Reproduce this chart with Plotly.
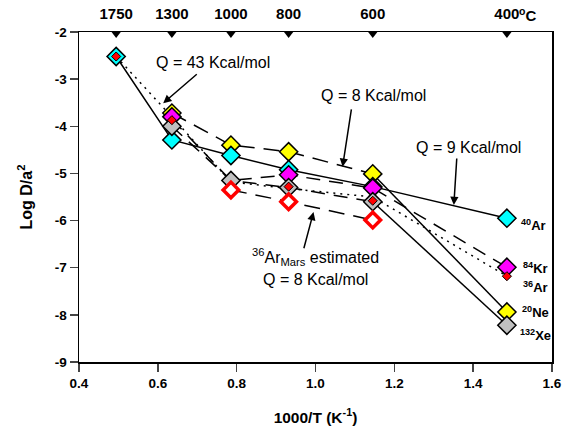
import plotly.graph_objects as go

# ---------------- data ----------------
temps_C = [1750, 1300, 1000, 800, 600, 400]
top_tick_text = ["1750", "1300", "1000", "800", "600", "400"]
inv_T = [1000.0 / (t + 273.15) for t in temps_C]

x_ticks = [0.4, 0.6, 0.8, 1.0, 1.2, 1.4, 1.6]
x_tick_text = ["0.4", "0.6", "0.8", "1.0", "1.2", "1.4", "1.6"]
y_ticks = [-2, -3, -4, -5, -6, -7, -8, -9]
y_tick_text = ["-2", "-3", "-4", "-5", "-6", "-7", "-8", "-9"]

ar40 = [-2.52, -4.29, -4.62, -4.92, -5.28, -5.95]
ar36 = [-2.52, -3.87, None, -5.28, -5.58, -7.18]
kr84 = [None, -3.80, None, -5.03, -5.31, -6.99]
ne20 = [None, -3.72, -4.40, -4.54, -5.01, -7.94]
xe132 = [None, -4.00, -5.15, -5.30, -5.60, -8.22]
ar36_mars = [None, None, -5.35, -5.60, -5.99, None]

# trend lines (fits drawn in the original)
ar40_line = [-2.52, -4.29, -4.62, -4.92, -5.28, -5.95]
ar36_line = [-2.52, -3.80, -5.18, -5.32, -5.50, -7.18]
kr84_line = [None, -3.85, -5.15, -5.03, -5.31, -6.99]
ne20_dash = [None, -3.72, -4.40, -4.54, -5.01, None]
ne20_solid = [None, None, None, None, -5.01, -7.94]
xe132_dash = [None, -4.00, -5.15, -5.30, -5.60, None]
xe132_solid = [None, None, None, None, -5.60, -8.22]
mars_line = [None, None, -5.35, -5.60, -5.99, None]

FONT = "Liberation Sans, Arial, sans-serif"

fig = go.Figure()

def line_trace(y, dash):
    xs, ys = [], []
    for xv, yv in zip(inv_T, y):
        if yv is not None:
            xs.append(xv); ys.append(yv)
    fig.add_trace(go.Scatter(x=xs, y=ys, mode="lines",
                             line=dict(color="black", width=1.5, dash=dash),
                             hoverinfo="skip", showlegend=False))

line_trace(ar40_line, "solid")
line_trace(ar36_line, "2px,5px")
line_trace(kr84_line, "14px,9px")
line_trace(ne20_dash, "16px,9px")
line_trace(ne20_solid, "solid")
line_trace(xe132_dash, "14px,9px")
line_trace(xe132_solid, "solid")
line_trace(mars_line, "16px,9px")

def marker_trace(y, fill, size=14, lc="black", lw=1.5):
    xs, ys = [], []
    for xv, yv in zip(inv_T, y):
        if yv is not None:
            xs.append(xv); ys.append(yv)
    fig.add_trace(go.Scatter(x=xs, y=ys, mode="markers",
                             marker=dict(symbol="diamond", size=size, color=fill,
                                         line=dict(color=lc, width=lw)),
                             showlegend=False, cliponaxis=False))

marker_trace(ne20, "#FFFF00")
marker_trace(ar40, "#00FFFF")
marker_trace(kr84, "#FF00FF")
marker_trace(xe132, "#C0C0C0")
marker_trace(ar36, "#FF0000", size=7, lw=1)
marker_trace(ar36_mars, "white", size=12, lc="#FF0000", lw=3.5)

# top temperature triangles
fig.add_trace(go.Scatter(x=inv_T, y=[0.994] * len(inv_T), yaxis="y2", mode="markers",
                         marker=dict(symbol="triangle-down", size=8, color="black"),
                         showlegend=False, hoverinfo="skip", cliponaxis=False))

# --------------- annotations ----------------
def txt(x, y, s, size=16, bold=False, xanchor="center"):
    fig.add_annotation(x=x, y=y, text=("<b>%s</b>" % s) if bold else s, showarrow=False,
                       xanchor=xanchor, yanchor="middle",
                       font=dict(family=FONT, size=size, color="black"))

def arrow(x0, y0, x1, y1):
    fig.add_annotation(x=x1, y=y1, ax=x0, ay=y0, axref="x", ayref="y", text="",
                       showarrow=True, arrowhead=2, arrowsize=1.1, arrowwidth=1.5,
                       arrowcolor="black")

txt(0.741, -2.64, "Q = 43 Kcal/mol")
arrow(0.7026, -2.87, 0.6136, -3.51)
txt(1.1475, -3.34, "Q = 8 Kcal/mol")
arrow(1.0916, -3.61, 1.0687, -4.86)
txt(1.389, -4.44, "Q = 9 Kcal/mol")
arrow(1.3586, -4.65, 1.351, -5.67)
txt(1.0, -6.77, "<sup>36</sup>Ar<sub>Mars</sub> estimated")
txt(1.0, -7.24, "Q = 8 Kcal/mol")
arrow(0.9695, -6.62, 0.995, -5.82)

iso_labels = ["<sup>40</sup>Ar", "<sup>84</sup>Kr", "<sup>36</sup>Ar", "<sup>20</sup>Ne", "<sup>132</sup>Xe"]
iso_x = [1.516, 1.521, 1.521, 1.518, 1.513]
iso_y = [-6.09, -7.01, -7.41, -7.94, -8.43]
for lab, xv, yv in zip(iso_labels, iso_x, iso_y):
    txt(xv, yv, lab, size=13, bold=True, xanchor="left")

# degree C after the 400 top label
fig.add_annotation(x=1.512, y=1.0, xref="x", yref="paper", yshift=18,
                   text="<b><sup>o</sup>C</b>", showarrow=False, xanchor="left",
                   yanchor="middle", font=dict(family=FONT, size=15, color="black"))

fig.update_layout(
    width=563, height=441,
    margin=dict(l=79, r=11, t=32, b=79),
    paper_bgcolor="white", plot_bgcolor="white",
    font=dict(family=FONT, color="black"),
    hovermode=False,
    xaxis=dict(range=[0.4, 1.6], tickvals=x_ticks, ticktext=x_tick_text,
               ticks="outside", ticklen=8, tickwidth=1.5, automargin=False,
               showline=True, linecolor="black", linewidth=1.5, mirror=True,
               showgrid=False, zeroline=False,
               tickfont=dict(family=FONT, size=13.5, color="black", weight="bold"),
               title=dict(text="<b>1000/T (K<sup>-1</sup>)</b>", standoff=22,
                          font=dict(family=FONT, size=15.5, color="black"))),
    xaxis2=dict(range=[0.4, 1.6], overlaying="x", side="top", tickvals=inv_T,
                ticktext=top_tick_text, ticks="outside", ticklen=6,
                tickcolor="rgba(0,0,0,0)", showline=False, showgrid=False,
                zeroline=False, anchor="y", automargin=False,
                tickfont=dict(family=FONT, size=15, color="black", weight="bold")),
    yaxis=dict(range=[-9, -2], tickvals=y_ticks, ticktext=y_tick_text,
               ticks="outside", ticklen=8, tickwidth=1.5, automargin=False,
               showline=True, linecolor="black", linewidth=1.5, mirror=True,
               showgrid=False, zeroline=False,
               tickfont=dict(family=FONT, size=13.5, color="black", weight="bold"),
               title=dict(text="<b>Log D/a<sup>2</sup></b>", standoff=18,
                          font=dict(family=FONT, size=16, color="black"))),
    yaxis2=dict(range=[0, 1], overlaying="y", visible=False),
)

# invisible trace to activate xaxis2
fig.add_trace(go.Scatter(x=[inv_T[0]], y=[-2], xaxis="x2", mode="markers",
                         marker=dict(opacity=0), showlegend=False, hoverinfo="skip"))

fig.write_html("out.html", config={"displayModeBar": False, "staticPlot": True},
               post_script="document.body.style.margin='0';document.body.style.overflow='hidden';")
